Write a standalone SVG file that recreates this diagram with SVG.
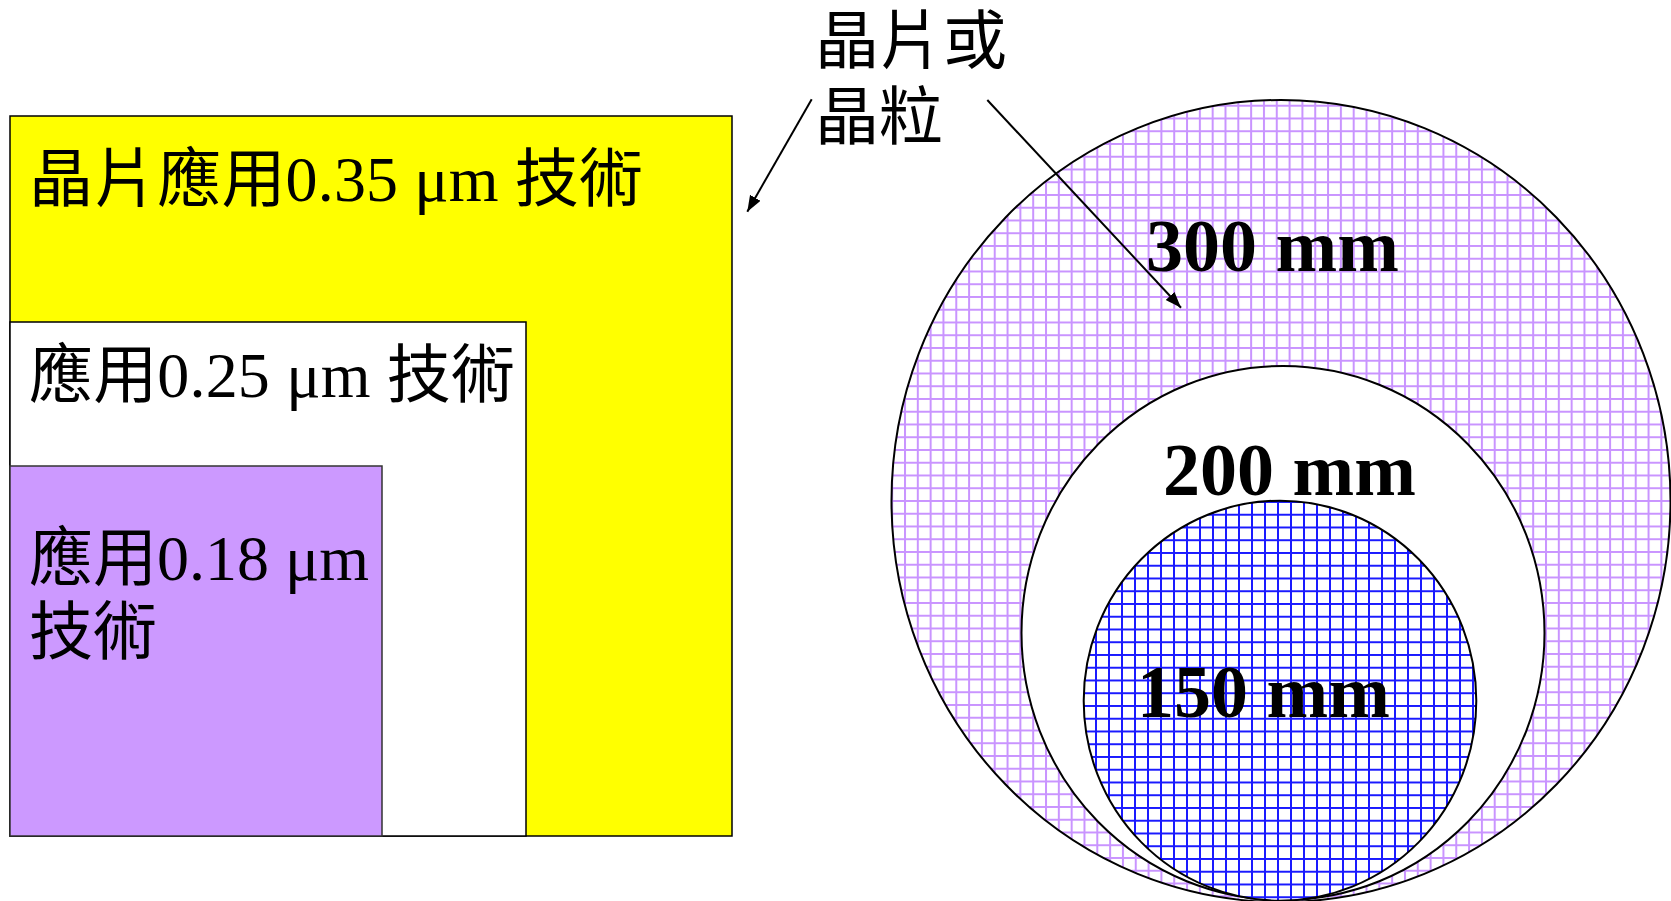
<svg xmlns="http://www.w3.org/2000/svg" width="1671" height="901" viewBox="0 0 1671 901">
<style>
.lbl{font-family:"Liberation Serif","Noto Sans CJK TC",serif;font-size:64px;fill:#000}
.big{font-family:"Liberation Serif","Times New Roman",serif;font-size:74px;font-weight:bold;fill:#000}
.box{stroke:#000;stroke-width:1.5}
.wafer{stroke:#000;stroke-width:2}
.conn{stroke:#000;stroke-width:2;fill:none}
</style>
<defs>
<pattern id="gridPurple" patternUnits="userSpaceOnUse" x="6.6" y="2.75" width="12.82" height="12.75">
<rect width="12.82" height="12.75" fill="#fff"/>
<path d="M1,0 V12.75 M0,1 H12.82" stroke="#C994FF" stroke-width="2"/>
</pattern>
<pattern id="gridBlue" patternUnits="userSpaceOnUse" x="3" y="3.75" width="13" height="12.75">
<rect width="13" height="12.75" fill="#fff"/>
<path d="M1,0 V12.75 M0,1 H13" stroke="#1a1aff" stroke-width="2"/>
</pattern>
<marker id="arrow" markerUnits="userSpaceOnUse" markerWidth="18" markerHeight="14" refX="16" refY="6" orient="auto">
<path d="M0,0 L16,6 L0,12 Z" fill="#000"/>
</marker>
</defs>

<g id="node-035">
<rect class="box" x="10" y="116" width="722" height="720" fill="#FFFF00"/>
<text class="lbl" x="29" y="201" textLength="614">晶片應用0.35 μm 技術</text>
</g>
<g id="node-025">
<rect class="box" x="10" y="322" width="516" height="514" fill="#FFFFFF"/>
<text class="lbl" x="29" y="397" textLength="486">應用0.25 μm 技術</text>
</g>
<g id="node-018">
<rect x="10" y="466" width="372" height="370" fill="#CC99FF" stroke="#333" stroke-width="1.5"/>
<text class="lbl" x="29" y="580">應用0.18 μm</text>
<text class="lbl" x="29" y="654">技術</text>
</g>

<g id="wafer-300">
<ellipse class="wafer" cx="1281" cy="501" rx="389.5" ry="401" fill="url(#gridPurple)"/>
</g>
<g id="wafer-200">
<ellipse class="wafer" cx="1283" cy="633" rx="261.5" ry="267" fill="#FFFFFF"/>
</g>
<g id="wafer-150">
<ellipse class="wafer" cx="1280" cy="700.7" rx="196.3" ry="200" fill="url(#gridBlue)"/>
</g>

<g id="label-chip">
<text class="lbl" x="815" y="63">晶片或</text>
<text class="lbl" x="815" y="139">晶粒</text>
</g>

<g id="connectors">
<line class="conn" x1="811.7" y1="99.3" x2="747.3" y2="211.7" marker-end="url(#arrow)"/>
<line class="conn" x1="987.3" y1="100" x2="1181" y2="307.7" marker-end="url(#arrow)"/>
</g>

<g id="wafer-labels">
<text class="big" x="1146" y="271">300 mm</text>
<text class="big" x="1163" y="495">200 mm</text>
<text class="big" x="1137" y="717">150 mm</text>
</g>
</svg>
